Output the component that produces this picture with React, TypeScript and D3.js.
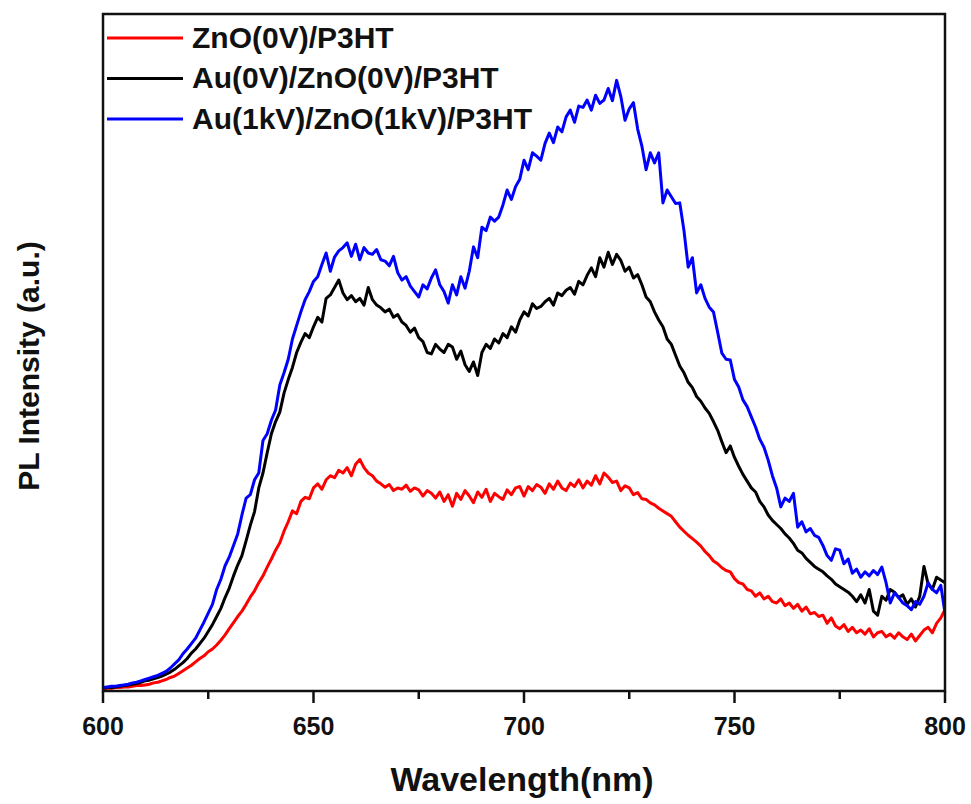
import React from "react";
import * as d3 from "d3";

const wavelengthStart = 600;
const xTicksMajor = [600, 650, 700, 750, 800];
const xTicksMinor = [625, 675, 725, 775];

const seriesNames = ["ZnO(0V)/P3HT", "Au(0V)/ZnO(0V)/P3HT", "Au(1kV)/ZnO(1kV)/P3HT"];
const seriesColors = ["#ff0000", "#000000", "#0000ff"];

// PL intensity (a.u.) sampled at 1 nm steps from 600 to 800 nm
const redZnO = [
  0.003,0.004,0.004,0.005,0.005,0.006,0.006,0.007,0.008,0.008,
  0.009,0.010,0.012,0.013,0.015,0.017,0.020,0.022,0.026,0.030,
  0.034,0.038,0.043,0.048,0.052,0.058,0.062,0.068,0.075,0.083,
  0.092,0.101,0.110,0.118,0.128,0.139,0.148,0.160,0.170,0.183,
  0.195,0.208,0.219,0.236,0.250,0.266,0.262,0.280,0.286,0.284,
  0.300,0.306,0.298,0.312,0.318,0.315,0.326,0.322,0.330,0.318,
  0.335,0.342,0.330,0.322,0.318,0.310,0.306,0.301,0.305,0.296,
  0.300,0.298,0.304,0.295,0.300,0.297,0.288,0.296,0.292,0.285,
  0.294,0.280,0.290,0.273,0.292,0.283,0.296,0.288,0.278,0.294,
  0.286,0.298,0.280,0.292,0.287,0.283,0.297,0.290,0.300,0.302,
  0.288,0.302,0.296,0.305,0.301,0.292,0.306,0.298,0.310,0.300,
  0.296,0.307,0.302,0.312,0.300,0.310,0.304,0.318,0.306,0.322,
  0.316,0.308,0.310,0.296,0.303,0.300,0.290,0.293,0.284,0.283,
  0.278,0.275,0.270,0.266,0.262,0.258,0.250,0.242,0.236,0.230,
  0.225,0.220,0.214,0.206,0.200,0.192,0.188,0.182,0.178,0.176,
  0.166,0.160,0.158,0.150,0.148,0.140,0.145,0.136,0.140,0.132,
  0.130,0.136,0.126,0.130,0.122,0.128,0.118,0.124,0.114,0.116,
  0.110,0.112,0.100,0.108,0.096,0.092,0.098,0.088,0.094,0.086,
  0.090,0.084,0.092,0.080,0.086,0.088,0.080,0.084,0.078,0.086,
  0.080,0.076,0.084,0.074,0.082,0.090,0.094,0.086,0.100,0.108,
  0.120,
];

const blackAu0V = [
  0.004,0.005,0.005,0.006,0.007,0.008,0.009,0.010,0.011,0.013,
  0.015,0.016,0.018,0.020,0.022,0.025,0.028,0.032,0.037,0.042,
  0.048,0.056,0.062,0.070,0.078,0.088,0.098,0.110,0.122,0.138,
  0.152,0.170,0.186,0.200,0.222,0.245,0.265,0.300,0.322,0.352,
  0.380,0.398,0.412,0.440,0.460,0.478,0.500,0.515,0.528,0.522,
  0.538,0.552,0.545,0.580,0.585,0.596,0.607,0.588,0.578,0.584,
  0.575,0.580,0.570,0.596,0.578,0.570,0.566,0.560,0.564,0.552,
  0.556,0.545,0.540,0.530,0.536,0.522,0.516,0.500,0.498,0.512,
  0.505,0.500,0.512,0.508,0.490,0.502,0.482,0.472,0.486,0.466,
  0.500,0.512,0.506,0.520,0.514,0.528,0.522,0.538,0.530,0.548,
  0.560,0.554,0.572,0.565,0.568,0.575,0.580,0.570,0.588,0.584,
  0.592,0.596,0.586,0.605,0.600,0.614,0.625,0.612,0.640,0.626,
  0.648,0.630,0.645,0.636,0.620,0.626,0.610,0.615,0.600,0.582,
  0.575,0.560,0.548,0.538,0.520,0.512,0.496,0.480,0.470,0.456,
  0.448,0.435,0.428,0.418,0.410,0.398,0.385,0.368,0.352,0.362,
  0.345,0.332,0.320,0.310,0.300,0.294,0.280,0.272,0.260,0.252,
  0.246,0.240,0.232,0.226,0.218,0.208,0.204,0.196,0.190,0.184,
  0.180,0.176,0.170,0.165,0.158,0.154,0.150,0.146,0.140,0.132,
  0.142,0.130,0.150,0.118,0.112,0.140,0.134,0.150,0.146,0.138,
  0.142,0.128,0.136,0.124,0.140,0.184,0.158,0.150,0.168,0.164,
  0.160,
];

const blueAu1kV = [
  0.005,0.006,0.007,0.007,0.008,0.009,0.010,0.012,0.013,0.015,
  0.017,0.019,0.021,0.023,0.026,0.029,0.034,0.040,0.046,0.055,
  0.062,0.070,0.078,0.090,0.102,0.115,0.128,0.150,0.165,0.185,
  0.198,0.215,0.232,0.260,0.285,0.290,0.312,0.322,0.370,0.380,
  0.400,0.415,0.452,0.470,0.490,0.520,0.540,0.560,0.578,0.590,
  0.605,0.612,0.630,0.647,0.620,0.641,0.650,0.655,0.662,0.642,
  0.660,0.637,0.655,0.647,0.645,0.652,0.637,0.635,0.628,0.642,
  0.618,0.607,0.612,0.598,0.590,0.582,0.600,0.594,0.610,0.622,
  0.600,0.590,0.573,0.600,0.585,0.612,0.595,0.620,0.656,0.640,
  0.685,0.680,0.700,0.694,0.700,0.718,0.740,0.726,0.745,0.756,
  0.784,0.770,0.795,0.790,0.784,0.809,0.824,0.810,0.833,0.826,
  0.848,0.858,0.840,0.864,0.862,0.873,0.858,0.880,0.868,0.873,
  0.890,0.872,0.902,0.878,0.843,0.860,0.869,0.830,0.805,0.770,
  0.795,0.780,0.795,0.721,0.740,0.730,0.720,0.721,0.680,0.626,
  0.640,0.588,0.600,0.580,0.567,0.560,0.530,0.499,0.490,0.489,
  0.460,0.449,0.430,0.420,0.405,0.390,0.372,0.360,0.341,0.318,
  0.300,0.272,0.285,0.280,0.292,0.242,0.250,0.235,0.240,0.230,
  0.227,0.215,0.200,0.193,0.210,0.208,0.188,0.195,0.174,0.180,
  0.168,0.176,0.170,0.178,0.172,0.183,0.160,0.130,0.145,0.138,
  0.130,0.126,0.120,0.132,0.128,0.140,0.160,0.150,0.145,0.156,
  0.115,
];

const allSeries = [redZnO, blackAu0V, blueAu1kV];

const W = 971;
const H = 804;
const left = 103;
const right = 945;
const top = 14;
const bottom = 691;
const FONT = "Liberation Sans, Arial, sans-serif";

export default function App() {
  const x = d3.scaleLinear().domain([600, 800]).range([left, right]);
  const y = d3.scaleLinear().domain([0, 1]).range([bottom, top]);
  const line = d3
    .line<number>()
    .x((_, i) => x(wavelengthStart + i))
    .y((d) => y(d));

  return (
    <svg
      width={W}
      height={H}
      style={{ position: "absolute", left: 0, top: 0, background: "#fff" }}
      fontFamily={FONT}
    >
      <rect x={0} y={0} width={W} height={H} fill="#fff" />
      <defs>
        <clipPath id="plotClip">
          <rect x={left} y={top} width={right - left} height={bottom - top} />
        </clipPath>
      </defs>
      <g clipPath="url(#plotClip)">
        {allSeries.map((s, i) => (
          <path
            key={i}
            d={line(s) || ""}
            fill="none"
            stroke={seriesColors[i]}
            strokeWidth={3}
            strokeLinejoin="round"
          />
        ))}
      </g>
      <rect
        x={left}
        y={top}
        width={right - left}
        height={bottom - top}
        fill="none"
        stroke="#111"
        strokeWidth={2.5}
      />
      {xTicksMajor.map((t) => (
        <g key={"M" + t}>
          <line x1={x(t)} x2={x(t)} y1={bottom} y2={bottom + 12} stroke="#111" strokeWidth={2.5} />
          <text
            x={x(t)}
            y={735}
            textAnchor="middle"
            fontSize={25}
            fontWeight="bold"
            fill="#111"
          >
            {t}
          </text>
        </g>
      ))}
      {xTicksMinor.map((t) => (
        <line key={"m" + t} x1={x(t)} x2={x(t)} y1={bottom} y2={bottom + 8} stroke="#111" strokeWidth={2.5} />
      ))}
      <text
        x={(left + right) / 2 - 2}
        y={791}
        textAnchor="middle"
        fontSize={34}
        fontWeight="bold"
        fill="#111"
      >
        Wavelength(nm)
      </text>
      <text
        transform="translate(39,366) rotate(-90)"
        textAnchor="middle"
        fontSize={30}
        fontWeight="bold"
        fill="#111"
      >
        PL Intensity (a.u.)
      </text>
      {seriesNames.map((name, i) => {
        const ly = 38 + i * 40.5;
        return (
          <g key={name}>
            <line x1={107} x2={183} y1={ly} y2={ly} stroke={seriesColors[i]} strokeWidth={3} />
            <text x={192} y={ly + 9.5} fontSize={30} fontWeight="bold" fill="#111">
              {name}
            </text>
          </g>
        );
      })}
    </svg>
  );
}
